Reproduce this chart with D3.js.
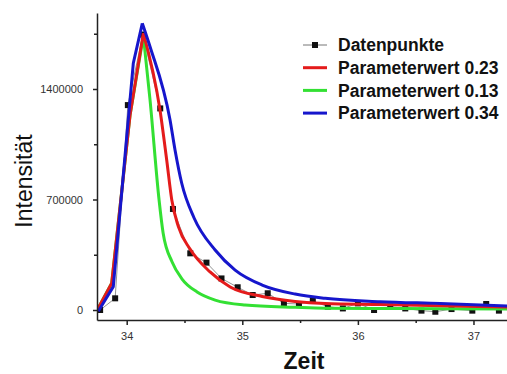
<!DOCTYPE html>
<html lang="de">

<head>
    <meta charset="UTF-8">
    <title>Intensität über Zeit</title>
    <style type="text/css">
        body {
            margin: 0;
            padding: 0;
            background-color: #ffffff;
            font-family: "Liberation Sans", Arial, sans-serif;
        }

        .axis path,
        .axis line {
            stroke: #222;
            stroke-width: 1.5px;
        }

        .axis text {
            font-family: "Liberation Sans", Arial, sans-serif;
            font-size: 11px;
            fill: #333;
        }
    </style>
</head>

<body>
    <script src="https://d3js.org/d3.v7.min.js"></script>
    <script type="text/javascript">
        var width = 507,
            height = 374;

        // Datenpunkte (Zeit, Intensität)
        var datenZeit = [33.77, 33.90, 34.01, 34.14, 34.29, 34.40, 34.55, 34.69, 34.82, 34.96, 35.09, 35.22, 35.36, 35.49,
            35.61, 35.74, 35.87, 36.00, 36.14, 36.28, 36.41, 36.55, 36.67, 36.81, 36.99, 37.11, 37.22];
        var datenWert = [0, 74000, 1298000, 1745000, 1277000, 640000, 359000, 300000, 200000, 144000, 95000, 106000, 42000, 38000,
            57000, 21000, 10000, 42000, 0, 21000, 10000, -4000, -11000, 6000, -4000, 38000, -4000];

        // Parameterwert 0.23 (rot)
        var rotZeit = [33.752, 33.87, 34.029, 34.144, 34.288, 34.346, 34.39, 34.447, 34.548, 34.721, 34.895, 35.172, 35.457, 35.717, 36.193, 37.293];
        var rotWert = [10000, 169000, 1235000, 1753000, 1267000, 950000, 697000, 528000, 386000, 241000, 146000, 85500, 54000, 41000, 35000, 19000];

        // Parameterwert 0.13 (grün)
        var gruenZeit = [33.752, 33.87, 34.029, 34.144, 34.202, 34.28, 34.315, 34.393, 34.479, 34.609, 34.765, 35.024, 35.457, 35.717, 36.366, 37.293];
        var gruenWert = [10000, 169000, 1235000, 1736000, 1330000, 697000, 488000, 304000, 196000, 114000, 63000, 32000, 17000, 11000, 9500, 6000];

        // Parameterwert 0.34 (blau)
        var blauZeit = [33.754, 33.884, 34.057, 34.135, 34.202, 34.375, 34.418, 34.476, 34.583, 34.765, 34.938, 35.172, 35.457, 35.717, 36.193, 36.713, 37.293];
        var blauWert = [-8000, 148000, 1563000, 1816000, 1668000, 1204000, 1014000, 803000, 583000, 380000, 253000, 158000, 101000, 74000, 53000, 41000, 25000];

        var yTicks = [0, 700000, 1400000];
        var yMinor = [350000, 1050000, 1750000];
        var xTicks = [34, 35, 36, 37];
        var xMinor = [34.5, 35.5, 36.5];

        var legendNamen = ["Datenpunkte", "Parameterwert 0.23", "Parameterwert 0.13", "Parameterwert 0.34"];

        var mLeft = 97, mRight = 507, mTop = 13, mBottom = 320;

        var x = d3.scaleLinear().domain([33.743, 37.29]).range([mLeft, mRight]);
        var y = d3.scaleLinear().domain([-63300, 1881400]).range([mBottom, mTop]);

        var svg = d3.select("body").append("svg")
            .attr("width", width)
            .attr("height", height);

        svg.append("defs").append("clipPath")
            .attr("id", "plotclip")
            .append("rect")
            .attr("x", mLeft)
            .attr("y", mTop)
            .attr("width", mRight - mLeft)
            .attr("height", mBottom - mTop);

        function zip(xs, ys) {
            return xs.map(function (v, i) { return [v, ys[i]]; });
        }

        var line = d3.line()
            .x(function (d) { return x(d[0]); })
            .y(function (d) { return y(d[1]); });

        // Abfall nach dem Maximum glatt, Anstieg eckig
        var lineGlatt = d3.line()
            .curve(d3.curveMonotoneX)
            .x(function (d) { return x(d[0]); })
            .y(function (d) { return y(d[1]); });

        var plot = svg.append("g").attr("clip-path", "url(#plotclip)");

        // Datenpunkte: dünne graue Linie + Quadrate
        var daten = zip(datenZeit, datenWert);
        plot.append("path")
            .datum(daten)
            .attr("fill", "none")
            .attr("stroke", "#777")
            .attr("stroke-width", 0.8)
            .attr("d", line);

        plot.selectAll(".pt")
            .data(daten)
            .enter().append("rect")
            .attr("class", "pt")
            .attr("x", function (d) { return x(d[0]) - 3; })
            .attr("y", function (d) { return y(d[1]) - 3; })
            .attr("width", 6)
            .attr("height", 6)
            .attr("fill", "#111");

        var kurven = [
            { werte: zip(gruenZeit, gruenWert), farbe: "#33e033" },
            { werte: zip(rotZeit, rotWert), farbe: "#e41b1b" },
            { werte: zip(blauZeit, blauWert), farbe: "#1616cc" }
        ];

        function kurvePfad(werte) {
            var iMax = d3.maxIndex(werte, function (d) { return d[1]; });
            return line(werte.slice(0, iMax + 1)) + lineGlatt(werte.slice(iMax));
        }

        plot.selectAll(".kurve")
            .data(kurven)
            .enter().append("path")
            .attr("class", "kurve")
            .attr("fill", "none")
            .attr("stroke", function (d) { return d.farbe; })
            .attr("stroke-width", 3)
            .attr("stroke-linejoin", "round")
            .attr("d", function (d) { return kurvePfad(d.werte); });

        // Achsen
        svg.append("g")
            .attr("class", "axis")
            .attr("transform", "translate(" + mLeft + ",0)")
            .call(d3.axisLeft(y).tickValues(yMinor).tickSize(3).tickFormat(""))
            .select(".domain").remove();

        svg.append("g")
            .attr("class", "axis")
            .attr("transform", "translate(" + mLeft + ",0)")
            .call(d3.axisLeft(y).tickValues(yTicks).tickSize(4).tickSizeOuter(0).tickPadding(10).tickFormat(d3.format("d")));

        svg.append("g")
            .attr("class", "axis")
            .attr("transform", "translate(0," + mBottom + ")")
            .call(d3.axisBottom(x).tickValues(xMinor).tickSize(3).tickFormat(""))
            .select(".domain").remove();

        svg.append("g")
            .attr("class", "axis")
            .attr("transform", "translate(0," + mBottom + ")")
            .call(d3.axisBottom(x).tickValues(xTicks).tickSize(5).tickSizeOuter(0).tickPadding(7).tickFormat(d3.format("d")));

        // Achsentitel
        svg.append("text")
            .attr("transform", "translate(32,181) rotate(-90)")
            .attr("text-anchor", "middle")
            .style("font-family", "Liberation Sans, Arial, sans-serif")
            .style("font-size", "23px")
            .attr("fill", "#111")
            .text("Intensität");

        svg.append("text")
            .attr("x", 304)
            .attr("y", 369)
            .attr("text-anchor", "middle")
            .style("font-family", "Liberation Sans, Arial, sans-serif")
            .style("font-size", "23px")
            .style("font-weight", "bold")
            .attr("fill", "#111")
            .text("Zeit");

        // Legende
        var legFarben = ["#777", "#e41b1b", "#33e033", "#1616cc"];
        var leg = svg.selectAll(".leg")
            .data(legendNamen)
            .enter().append("g")
            .attr("class", "leg")
            .attr("transform", function (d, i) { return "translate(0," + (45 + i * 22.7) + ")"; });

        leg.append("line")
            .attr("x1", 303)
            .attr("x2", 327)
            .attr("stroke", function (d, i) { return legFarben[i]; })
            .attr("stroke-width", function (d, i) { return i === 0 ? 1 : 3; });

        leg.filter(function (d, i) { return i === 0; })
            .append("rect")
            .attr("x", 312)
            .attr("y", -3)
            .attr("width", 6)
            .attr("height", 6)
            .attr("fill", "#111");

        leg.append("text")
            .attr("x", 338)
            .attr("y", 0)
            .attr("dy", "0.36em")
            .style("font-family", "Liberation Sans, Arial, sans-serif")
            .style("font-size", "17.5px")
            .style("font-weight", "bold")
            .attr("fill", "#111")
            .text(function (d) { return d; });
    </script>
</body>

</html>
